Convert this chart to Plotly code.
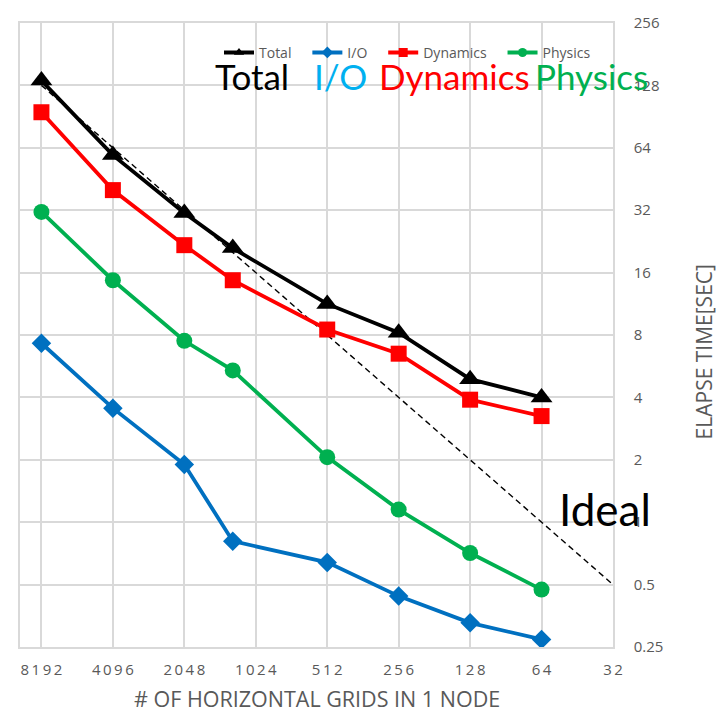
import plotly.graph_objects as go

# Grid points per node (x) and elapsed time in seconds for each component
grids = [8192, 4096, 2048, 1280, 512, 256, 128, 64]
total = [135, 59, 31, 21, 11.3, 8.2, 4.9, 4.0]
io = [7.3, 3.55, 1.9, 0.81, 0.64, 0.44, 0.327, 0.272]
dynamics = [95, 40, 21.7, 14.7, 8.5, 6.5, 3.9, 3.25]
physics = [31.4, 14.7, 7.5, 5.4, 2.06, 1.15, 0.71, 0.473]

# Ideal strong-scaling reference line
ideal_x = [8192, 32]
ideal_y = [128, 0.5]

x_ticks = [8192, 4096, 2048, 1024, 512, 256, 128, 64, 32]
y_ticks = [0.25, 0.5, 1, 2, 4, 8, 16, 32, 64, 128, 256]
y_tick_text = ["0.25", "0.5", "1", "2", "4", "8", "16", "32", "64", "128", "256"]

series = [
    ("Total", total, "#000000", "triangle-up", 19),
    ("I/O", io, "#0070C0", "diamond", 15),
    ("Dynamics", dynamics, "#FF0000", "square", 16),
    ("Physics", physics, "#00B050", "circle", 16),
]

GRID = "#D9D9D9"
TXT = "#595959"

fig = go.Figure()

fig.add_trace(go.Scatter(
    x=ideal_x, y=ideal_y, mode="lines",
    line=dict(color="black", width=1.4, dash="6px,4px"),
    showlegend=False, hoverinfo="skip",
))

for name, vals, color, symbol, size in series:
    fig.add_trace(go.Scatter(
        x=grids, y=vals, mode="lines+markers", name=name,
        line=dict(color=color, width=3.8),
        marker=dict(symbol=symbol, size=size, color=color),
        showlegend=False,
    ))

# Compact legend entries with small markers
for name, vals, color, symbol, size in series:
    fig.add_trace(go.Scatter(
        x=[None], y=[None], mode="lines+markers",
        name=name + "\u00a0\u00a0\u00a0",
        line=dict(color=color, width=4),
        marker=dict(symbol=symbol, size=9, color=color),
    ))

fig.update_xaxes(
    type="log",
    range=[4.0037, 1.50515],
    tickvals=x_ticks,
    ticktext=["\u2009".join(str(v)) for v in x_ticks],
    tickfont=dict(family="Open Sans", size=15, color=TXT),
    showgrid=True, gridcolor=GRID, gridwidth=1.5,
    showline=True, linecolor=GRID, linewidth=1.5, mirror=True,
    zeroline=False, ticks="", ticklabelstandoff=8,
)
fig.update_yaxes(
    type="log", side="right",
    range=[-0.60206, 2.40824],
    tickvals=y_ticks, ticktext=y_tick_text,
    tickfont=dict(family="Open Sans", size=15, color=TXT),
    showgrid=True, gridcolor=GRID, gridwidth=1.5,
    showline=True, linecolor=GRID, linewidth=1.5, mirror=True,
    zeroline=False, ticks="", ticklabelstandoff=16,
)

L, R, T, B = 20, 111, 20, 67
W, H = 724, 714
pw, ph = W - L - R, H - T - B


def px(x):
    return (x - L) / pw


def py(y):
    return (H - B - y) / ph


annotations = [
    dict(text="# OF HORIZONTAL GRIDS IN 1 NODE", x=px(317), y=py(699),
         font=dict(family="Open Sans", size=21.5, color=TXT),
         xanchor="center", yanchor="middle"),
    dict(text="ELAPSE TIME[SEC]", x=px(704), y=py(351), textangle=-90,
         font=dict(family="Open Sans", size=21, color=TXT),
         xanchor="center", yanchor="middle"),
    dict(text="Ideal", x=px(557), y=py(508),
         font=dict(family="Lato", size=44, color="black"),
         xanchor="left", yanchor="middle"),
]
big_labels = [("Total", 213, "#000000"), ("I/O", 312, "#00B0F0"),
              ("Dynamics", 377, "#FF0000"), ("Physics", 533, "#00B050")]
for text, x0, color in big_labels:
    annotations.append(dict(
        text=text, x=px(x0), y=py(73),
        font=dict(family="Lato", size=35, color=color),
        xanchor="left", yanchor="middle"))

for a in annotations:
    a.update(xref="paper", yref="paper", showarrow=False)

fig.update_layout(
    width=W, height=H,
    margin=dict(l=L, r=R, t=T, b=B),
    paper_bgcolor="white", plot_bgcolor="white",
    annotations=annotations,
    legend=dict(
        orientation="h", x=px(219), y=py(50), xanchor="left", yanchor="middle",
        font=dict(family="Open Sans", size=14, color=TXT),
        bgcolor="rgba(0,0,0,0)", borderwidth=0,
    ),
)

fig.write_html("out.html")
